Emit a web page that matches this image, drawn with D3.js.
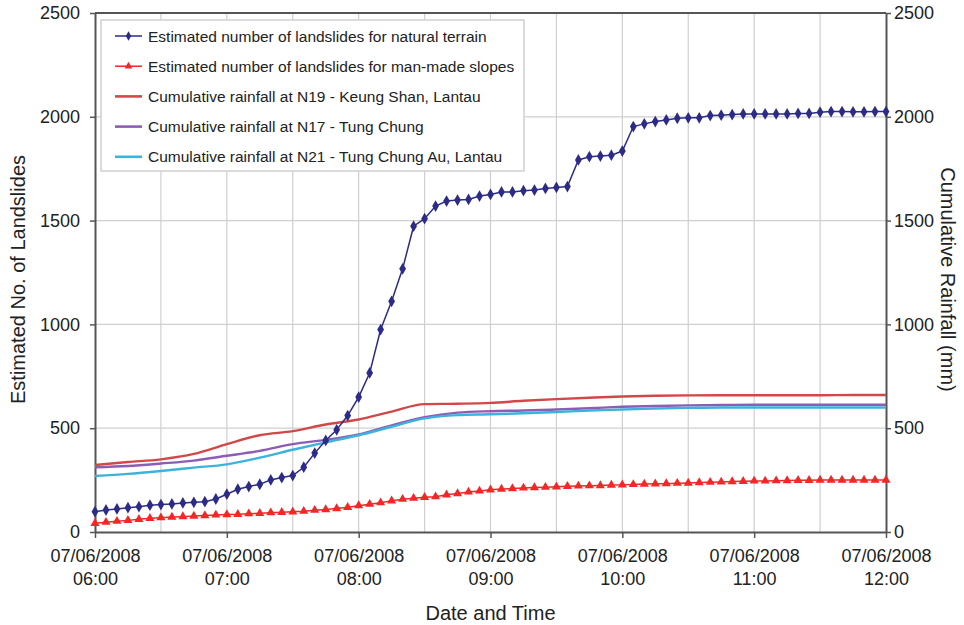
<!DOCTYPE html>
<html>
<head>
<meta charset="utf-8">
<script src="https://cdn.jsdelivr.net/npm/d3@7"></script>
<style>
  html, body { margin: 0; padding: 0; background: #fff; }
  svg { display: block; font-family: "Liberation Sans", Arial, Helvetica, sans-serif; }
</style>
</head>
<body>
<svg id="chart" width="964" height="625"></svg>
<script>
// Landslide estimates sampled every 5 minutes, 06:00 to 12:00 on 07/06/2008
const landslideStart = "2008-06-07T06:00";
const landslideStepMinutes = 5;
const naturalTerrain = [
  98, 106, 111, 117, 122, 129, 132, 135, 140, 143, 146, 159, 182,
  206, 219, 230, 251, 262, 272, 312, 380, 441, 492, 561, 650,
  766, 975, 1111, 1268, 1473, 1509, 1570, 1594, 1599, 1602, 1618, 1626,
  1638, 1638, 1644, 1647, 1655, 1660, 1664, 1792, 1808, 1811, 1815, 1835,
  1953, 1966, 1977, 1985, 1993, 1995, 1995, 2006, 2008, 2011, 2014, 2014,
  2014, 2014, 2014, 2016, 2016, 2022, 2025, 2025, 2024, 2024, 2025, 2025
];
const manMadeSlopes = [
  42, 47, 52, 56, 61, 66, 69, 72, 74, 77, 79, 82, 84,
  85, 88, 90, 93, 95, 97, 100, 105, 108, 113, 119, 127,
  134, 141, 150, 158, 163, 167, 170, 179, 185, 193, 198, 203,
  207, 209, 212, 214, 216, 218, 220, 222, 223, 224, 226, 227,
  229, 231, 232, 233, 235, 236, 238, 240, 241, 243, 244, 246,
  246, 247, 248, 249, 249, 250, 250, 250, 250, 250, 250, 250
];

// Cumulative rainfall (mm) sampled every 15 minutes
const rainStepMinutes = 15;
const rainN19 = [323, 337, 350, 376, 423, 466, 486, 518, 542, 580, 616, 618, 622,
                 632, 640, 647, 653, 656, 658, 659, 659, 659, 659, 660, 660];
const rainN17 = [312, 318, 330, 344, 367, 391, 423, 444, 470, 514, 553, 575, 582,
                 585, 590, 596, 603, 607, 610, 612, 613, 613, 613, 613, 613];
const rainN21 = [270, 280, 294, 310, 326, 358, 396, 432, 466, 507, 547, 563, 567,
                 572, 578, 585, 590, 595, 598, 600, 600, 600, 600, 600, 600];

const yTicks = [0, 500, 1000, 1500, 2000, 2500];
const xTickHours = ["06:00", "07:00", "08:00", "09:00", "10:00", "11:00", "12:00"];
const xTickDate = "07/06/2008";

const legendLabels = [
  "Estimated number of landslides for natural terrain",
  "Estimated number of landslides for man-made slopes",
  "Cumulative rainfall at N19 - Keung Shan, Lantau",
  "Cumulative rainfall at N17 - Tung Chung",
  "Cumulative rainfall at N21 - Tung Chung Au, Lantau"
];
const colors = {
  natural: "#2c2b88",
  manmade: "#f42626",
  n19: "#d24848",
  n17: "#8d5db6",
  n21: "#3db3dc"
};

// ---- layout ----
const W = 964, H = 625;
const margin = { top: 13, right: 78, bottom: 93, left: 95 };
const innerW = W - margin.left - margin.right;
const innerH = H - margin.top - margin.bottom;

const svg = d3.select("#chart");
const g = svg.append("g").attr("transform", `translate(${margin.left},${margin.top})`);

const t0 = new Date(landslideStart);
const t1 = d3.timeHour.offset(t0, 6);
const x = d3.scaleTime().domain([t0, t1]).range([0, innerW]);
const yL = d3.scaleLinear().domain([0, 2500]).range([innerH, 0]);
const yR = d3.scaleLinear().domain([0, 2500]).range([innerH, 0]);

const landslideTimes = naturalTerrain.map((_, i) => d3.timeMinute.offset(t0, i * landslideStepMinutes));
const rainTimes = rainN19.map((_, i) => d3.timeMinute.offset(t0, i * rainStepMinutes));

// ---- gridlines ----
const grid = g.append("g").attr("class", "grid");
grid.selectAll("line.v")
  .data(d3.timeMinute.every(30).range(d3.timeMinute.offset(t0, 30), t1))
  .join("line")
  .attr("x1", d => x(d)).attr("x2", d => x(d))
  .attr("y1", 0).attr("y2", innerH)
  .attr("stroke", "#cfcfcf").attr("stroke-width", 1.2);
grid.selectAll("line.h")
  .data(yTicks.filter(v => v > 0 && v < 2500))
  .join("line")
  .attr("x1", 0).attr("x2", innerW)
  .attr("y1", d => yL(d)).attr("y2", d => yL(d))
  .attr("stroke", "#cfcfcf").attr("stroke-width", 1.2);

// ---- axes ----
const axisColor = "#555";
const fontSize = 18;
const plain = d3.format("d");

const xAxis = d3.axisBottom(x)
  .tickValues(d3.timeHour.every(1).range(t0, d3.timeMinute.offset(t1, 1)))
  .tickSize(6).tickSizeOuter(0).tickFormat("");
const gx = g.append("g").attr("transform", `translate(0,${innerH})`).call(xAxis);
gx.select(".domain").attr("stroke", axisColor).attr("stroke-width", 2);
gx.selectAll(".tick line").attr("stroke", axisColor).attr("stroke-width", 1.5);
gx.selectAll(".tick").each(function (d, i) {
  const tk = d3.select(this);
  tk.append("text").attr("y", 30).attr("fill", "#222").attr("font-size", fontSize)
    .attr("text-anchor", "middle").text(xTickDate);
  tk.append("text").attr("y", 53).attr("fill", "#222").attr("font-size", fontSize)
    .attr("text-anchor", "middle").text(xTickHours[i]);
});

const yAxisL = d3.axisLeft(yL).tickValues(yTicks).tickFormat(plain)
  .tickSize(5).tickSizeOuter(0).tickPadding(10);
const gyl = g.append("g").call(yAxisL);
gyl.select(".domain").attr("stroke", axisColor).attr("stroke-width", 2);
gyl.selectAll(".tick line").attr("stroke", axisColor).attr("stroke-width", 1.5);
gyl.selectAll(".tick text").attr("font-size", fontSize).attr("fill", "#222")
  .attr("font-family", "Liberation Sans, Arial, sans-serif");

const yAxisR = d3.axisRight(yR).tickValues(yTicks).tickFormat(plain)
  .tickSize(5).tickSizeOuter(0).tickPadding(3);
const gyr = g.append("g").attr("transform", `translate(${innerW},0)`).call(yAxisR);
gyr.select(".domain").attr("stroke", axisColor).attr("stroke-width", 2);
gyr.selectAll(".tick line").attr("stroke", axisColor).attr("stroke-width", 1.5);
gyr.selectAll(".tick text").attr("font-size", fontSize).attr("fill", "#222")
  .attr("font-family", "Liberation Sans, Arial, sans-serif");

// top frame line
g.append("line").attr("x1", 0).attr("x2", innerW).attr("y1", 0).attr("y2", 0)
  .attr("stroke", axisColor).attr("stroke-width", 2);

// axis titles
svg.append("text").attr("x", margin.left + innerW / 2).attr("y", 620)
  .attr("text-anchor", "middle").attr("font-size", 20).attr("fill", "#222")
  .text("Date and Time");
svg.append("text")
  .attr("transform", `translate(25,${margin.top + innerH / 2 + 7}) rotate(-90)`)
  .attr("text-anchor", "middle").attr("font-size", 20).attr("fill", "#222")
  .text("Estimated No. of Landslides");
svg.append("text")
  .attr("transform", `translate(941,${margin.top + innerH / 2 + 7}) rotate(90)`)
  .attr("text-anchor", "middle").attr("font-size", 20).attr("fill", "#222")
  .text("Cumulative Rainfall (mm)");

// ---- rainfall lines (right axis) ----
const rainLine = d3.line().x((d, i) => x(rainTimes[i])).y(d => yR(d)).curve(d3.curveMonotoneX);
[[rainN19, colors.n19], [rainN17, colors.n17], [rainN21, colors.n21]].forEach(([vals, c]) => {
  g.append("path").datum(vals).attr("d", rainLine)
    .attr("fill", "none").attr("stroke", c).attr("stroke-width", 2.4);
});

// ---- landslide series (left axis) ----
const lsLine = d3.line().x((d, i) => x(landslideTimes[i])).y(d => yL(d));

g.append("path").datum(manMadeSlopes).attr("d", lsLine)
  .attr("fill", "none").attr("stroke", colors.manmade).attr("stroke-width", 1.5);
g.selectAll("path.tri").data(manMadeSlopes).join("path")
  .attr("class", "tri")
  .attr("transform", (d, i) => `translate(${x(landslideTimes[i])},${yL(d)})`)
  .attr("d", d3.symbol(d3.symbolTriangle, 36))
  .attr("fill", colors.manmade);

g.append("path").datum(naturalTerrain).attr("d", lsLine)
  .attr("fill", "none").attr("stroke", colors.natural).attr("stroke-width", 1.5);
g.selectAll("path.dia").data(naturalTerrain).join("path")
  .attr("class", "dia")
  .attr("transform", (d, i) => `translate(${x(landslideTimes[i])},${yL(d)})`)
  .attr("d", d3.symbol(d3.symbolDiamond, 40))
  .attr("fill", colors.natural);

// ---- legend ----
const legend = svg.append("g").attr("transform", "translate(101,20)");
legend.append("rect").attr("width", 423).attr("height", 151)
  .attr("fill", "#fff").attr("stroke", "#cfcfcf").attr("stroke-width", 1.5);
const legendKeys = [
  { c: colors.natural, sym: d3.symbolDiamond },
  { c: colors.manmade, sym: d3.symbolTriangle },
  { c: colors.n19 },
  { c: colors.n17 },
  { c: colors.n21 }
];
legendKeys.forEach((k, i) => {
  const row = legend.append("g").attr("transform", `translate(0,${16 + i * 30.2})`);
  row.append("line").attr("x1", 14).attr("x2", 41).attr("y1", 0).attr("y2", 0)
    .attr("stroke", k.c).attr("stroke-width", k.sym ? 1.5 : 2.6);
  if (k.sym) {
    row.append("path").attr("transform", "translate(27.5,0)")
      .attr("d", d3.symbol(k.sym, 26)).attr("fill", k.c);
  }
  row.append("text").attr("x", 47).attr("y", 5.5).attr("font-size", 15.5)
    .attr("fill", "#222").text(legendLabels[i]);
});
</script>
</body>
</html>
